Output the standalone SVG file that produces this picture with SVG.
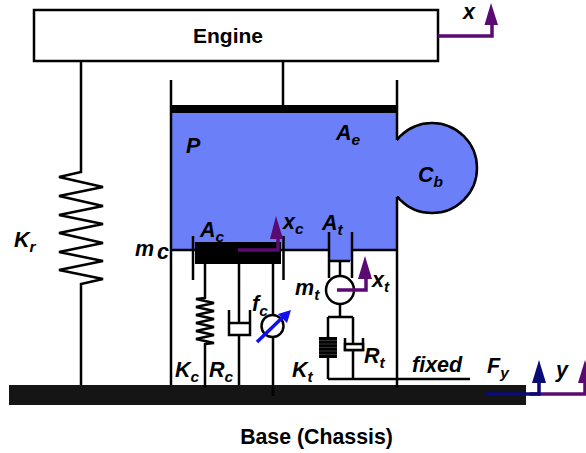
<svg xmlns="http://www.w3.org/2000/svg" width="586" height="453" viewBox="0 0 586 453">
<defs><style>
.l{fill:none;stroke:#000;stroke-width:2.500;stroke-linejoin:miter}
.t{font-family:"Liberation Sans",Arial,sans-serif;font-weight:bold;fill:#000}
.i{font-family:"Liberation Sans",Arial,sans-serif;font-weight:bold;font-style:italic;fill:#000;font-size:21.500px}
.s{font-size:15.500px}
.p{fill:none;stroke:#5a0a72;stroke-width:3.500}
.pf{fill:#5a0a72}
</style></defs>
<g id="base"><rect x="9" y="385" width="517" height="20" fill="#151515"/><text class="t" x="316.500" y="444" font-size="21.300" text-anchor="middle">Base (Chassis)</text></g>
<g id="engine"><rect x="34" y="10" width="404" height="51" fill="#fff" stroke="#000" stroke-width="2.500"/><text class="t" x="228" y="43" font-size="21" text-anchor="middle">Engine</text></g>
<g id="chamber">
<circle cx="432" cy="168" r="45" fill="#6a7ff8" stroke="#000" stroke-width="2.500"/>
<rect x="171" y="108" width="226" height="142" fill="#6a7ff8"/>
<rect x="390" y="141" width="30" height="55" fill="#6a7ff8"/>
<path d="M329 232H352V261H329Z" fill="#6a7ff8"/>
<rect x="171" y="105" width="226" height="8" fill="#000"/>
<path class="l" d="M171 80V385M397 80V140M397 197V388M171 250H195M281 250H329M352 250H397M283 61V105"/>
<text class="i" x="186" y="153">P</text>
<text class="i" x="336" y="140">A<tspan class="s" dy="5">e</tspan></text>
<text class="i" x="418" y="182">C<tspan class="s" dy="5">b</tspan></text>
</g>
<g id="spring-kr"><path class="l" d="M81 61V172L59 177L103 187L59 196L103 206L59 215L103 224L59 233L103 243L59 252L103 261L59 270L103 279L81 284V385"/><text class="i" x="14" y="247">K<tspan class="s" dy="5">r</tspan></text></g>
<g id="piston">
<rect x="195" y="242" width="86" height="22" fill="#000"/>
<path class="l" d="M193 236V280M283.500 236V280"/>
<text class="i" x="200" y="237">A<tspan class="s" dy="5">c</tspan></text>
<text class="i" x="135" y="256">m</text><text class="i" x="157" y="259">c</text>
</g>
<g id="spring-kc"><path class="l" d="M205 264V298L196 299L214 303L196 307L214 311L196 315L214 319L196 323L214 327L196 331L214 335L196 339L214 343L205 344V388"/><text class="i" x="175" y="377">K<tspan class="s" dy="5">c</tspan></text></g>
<g id="damper-rc"><path class="l" d="M239 264V323M229 310V335H250V310M229 323H250M239 335V385"/><text class="i" x="209" y="377">R<tspan class="s" dy="5">c</tspan></text></g>
<g id="friction-fc"><path class="l" d="M273 264V396"/><circle cx="272.500" cy="326" r="11" fill="#fff" stroke="#000" stroke-width="2.500"/>
<path d="M257 342L284 316" fill="none" stroke="#1010ee" stroke-width="3.500"/><path d="M291 310L278 314L287 323Z" fill="#1010ee"/>
<text class="i" x="252" y="311">f<tspan class="s" dy="5">c</tspan></text></g>
<g id="mass-mt">
<path class="l" d="M329 232V278M352 232V278M330 261H350M340 261V277M340 304V317M328 317H353M328 317V379M353 317V379M328 379H470"/>
<circle cx="340" cy="290" r="14" fill="#fff" stroke="#000" stroke-width="2.500"/>
<text class="i" x="322" y="230">A<tspan class="s" dy="5">t</tspan></text>
<text class="i" x="295" y="295">m<tspan class="s" dy="5">t</tspan></text>
</g>
<g id="spring-kt"><rect x="319" y="337" width="18" height="21" fill="#000"/><path d="M319 340.500H337M319 344H337M319 347.500H337M319 351H337M319 354.500H337" stroke="#555" stroke-width="0.600"/><text class="i" x="292" y="377">K<tspan class="s" dy="5">t</tspan></text></g>
<g id="damper-rt"><path d="M345 338V350H363V338" class="l"/><rect x="345" y="344" width="18" height="6" fill="#fff" stroke="#000" stroke-width="2.500"/><text class="i" x="364" y="363">R<tspan class="s" dy="5">t</tspan></text></g>
<g id="labels"><text class="i" x="412" y="372">fixed</text><text class="i" x="487" y="373">F<tspan class="s" dy="5">y</tspan></text><text class="i" x="556" y="377">y</text><text class="i" x="463" y="19">x</text></g>
<g id="connectors">
<path class="p" d="M438 36H492V24"/><path class="pf" d="M491 3L484.500 25H498Z"/>
<path class="p" d="M238 250H278V238"/><path class="pf" d="M276 216L270 239H283Z"/>
<path class="p" d="M337 290H366V277"/><path class="pf" d="M365 256L358 279H372Z"/>
<path class="p" d="M530 394H585V382"/><path class="pf" d="M585 360L578 383H592Z"/>
<path d="M486 394H539V381" fill="none" stroke="#0a0a78" stroke-width="3.500"/><path d="M539 360L532 383H546Z" fill="#0a0a78"/>
</g>
<g id="var-labels"><text class="i" x="283" y="229">x<tspan class="s" dy="5">c</tspan></text><text class="i" x="372" y="287">x<tspan class="s" dy="5">t</tspan></text></g>
</svg>
